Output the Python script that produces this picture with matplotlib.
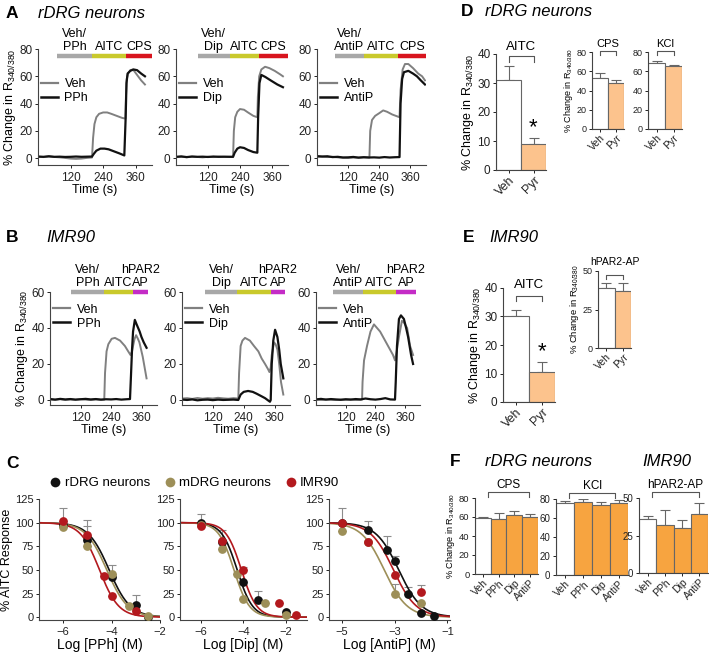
import numpy as np
import matplotlib
matplotlib.use("Agg")
import matplotlib.pyplot as plt
from matplotlib.lines import Line2D
from matplotlib.transforms import offset_copy

plt.rcParams['font.family'] = ['Liberation Sans', 'DejaVu Sans']
plt.rcParams['mathtext.fontset'] = 'custom'
plt.rcParams['mathtext.rm'] = 'Liberation Sans'
plt.rcParams['mathtext.it'] = 'Liberation Sans:italic'
plt.rcParams['axes.linewidth'] = 0.8
plt.rcParams['axes.edgecolor'] = '#444444'

# ---------------- data: calcium traces (time s, % change) ----------------
a1_veh_t = [0, 20, 40, 60, 80, 100, 120, 140, 160, 180, 199, 203, 208, 215, 225, 240, 255, 270, 290, 310, 322, 324, 327, 332, 340, 350, 365, 380, 394]
a1_veh = [1.0, 0.8, 1.2, 0.9, 0.6, 0.2, -0.3, -0.5, -0.3, 0.2, 0.5, 15, 25, 30, 32.5, 33.5, 33.5, 32.5, 31, 29.5, 29, 45, 58, 62, 64.5, 65, 61, 57, 54]
a1_drug_t = [0, 20, 40, 60, 80, 100, 120, 140, 160, 180, 199, 205, 215, 230, 245, 260, 280, 300, 318, 323, 326, 330, 340, 352, 365, 380, 394]
a1_drug = [1.2, 1.0, 1.4, 1.0, 1.1, 0.9, 1.0, 1.2, 1.0, 1.1, 1.2, 3, 5.5, 7, 7, 6.5, 5, 3.5, 2, 30, 55, 62, 64, 65, 64.5, 62, 60]

a2_veh_t = [0, 20, 40, 60, 80, 100, 120, 140, 160, 180, 200, 214, 217, 222, 230, 240, 255, 270, 290, 305, 307, 312, 320, 334, 350, 370, 390, 401]
a2_veh = [0.8, 1.0, 0.7, 1.1, 0.9, 0.6, 1.0, 0.8, 1.1, 0.9, 1.0, 1.0, 20, 30, 34, 36, 35.5, 33.5, 31, 30, 45, 60, 65, 67, 66, 64, 61.5, 60]
a2_drug_t = [0, 20, 40, 60, 80, 100, 120, 140, 160, 180, 200, 214, 220, 230, 240, 255, 270, 290, 305, 308, 313, 320, 335, 355, 380, 401]
a2_drug = [1.0, 1.3, 0.8, 1.2, 1.0, 1.1, 0.9, 1.2, 1.0, 1.1, 1.0, 1.0, 4, 7, 8, 7.5, 6, 4.5, 4, 30, 55, 61, 59.5, 57, 54, 52]

a3_veh_t = [0, 20, 40, 60, 80, 100, 120, 140, 160, 180, 202, 205, 212, 224, 240, 255, 270, 290, 318, 322, 330, 339, 352, 370, 390, 405, 416]
a3_veh = [1.0, 1.2, 0.8, 1.0, 0.6, 0.4, 0.2, 0.5, 0.4, 0.6, 0.5, 20, 28, 31, 33, 35, 34, 32, 30, 50, 65, 69, 69, 66, 62, 60, 57]
a3_drug_t = [0, 20, 40, 60, 80, 100, 120, 140, 160, 180, 200, 220, 240, 260, 280, 300, 318, 322, 328, 335, 352, 370, 385, 400, 416]
a3_drug = [1.5, 1.2, 1.4, 0.8, 1.0, 0.5, 0.6, 0.9, 0.4, 0.7, 0.5, 0.6, 0.4, 0.8, 0.5, 0.7, 0.8, 40, 58, 63, 64, 62, 60, 57, 54]

b1_veh_t = [0, 20, 40, 60, 80, 100, 120, 140, 160, 180, 200, 213, 216, 222, 229, 242, 255, 275, 294, 307, 316, 322, 326, 332, 338, 345, 351, 364, 379]
b1_veh = [0.3, 0.1, 0.4, 0.0, 0.3, 0.1, 0.4, 0.2, 0.0, 0.3, 0.1, 0.2, 15, 27, 31, 34, 34.5, 33, 30, 27, 25, 27, 30, 34, 36, 34, 32, 24, 12]
b1_drug_t = [0, 20, 40, 60, 80, 100, 120, 140, 160, 180, 200, 220, 240, 260, 280, 300, 314, 318, 322, 326, 333, 340, 346, 352, 359, 368, 379]
b1_drug = [0.5, 0.2, 0.6, 0.3, 0.5, 0.2, 0.4, 0.6, 0.3, 0.5, 0.2, 0.4, 0.3, 0.5, 0.2, 0.4, 0.5, 14, 28, 38, 44.5, 42, 40, 38, 35, 32, 29]

b2_veh_t = [0, 20, 40, 60, 80, 100, 120, 140, 160, 180, 200, 219, 222, 228, 235, 245, 264, 280, 297, 310, 323, 335, 340, 345, 349, 358, 364, 371, 378, 385, 394]
b2_veh = [0.8, 1.0, 0.6, 1.1, 0.7, 1.0, 0.8, 1.2, 0.9, 0.7, 1.0, 0.8, 15, 30, 33, 34.5, 33, 30, 27, 23, 20, 17, 15.5, 18, 25, 32, 31, 28, 20, 10, 3]
b2_drug_t = [0, 20, 40, 60, 80, 100, 120, 140, 160, 180, 200, 219, 228, 240, 257, 275, 290, 310, 323, 342, 345, 349, 355, 362, 371, 378, 384, 394]
b2_drug = [0.2, 0.0, 0.3, -0.2, 0.1, 0.2, -0.1, 0.2, 0.0, 0.1, 0.2, 0.0, 3, 4.5, 5, 4.5, 3.5, 2, 1, -1, 0, 20, 33, 39, 35, 28, 20, 12]

b3_veh_t = [0, 20, 40, 60, 80, 100, 120, 140, 160, 186, 188, 194, 206, 220, 234, 259, 291, 311, 319, 327, 335, 347, 355, 368, 380, 392]
b3_veh = [0.2, 0.0, 0.3, 0.1, 0.0, 0.2, 0.1, 0.3, 0.0, 0.2, 10, 22, 30, 38, 42, 38, 30, 25, 22, 28, 35, 44, 43, 40, 30, 25]
b3_drug_t = [0, 20, 40, 60, 80, 100, 120, 140, 160, 180, 200, 220, 240, 260, 280, 300, 319, 322, 327, 335, 343, 355, 364, 372, 384, 392]
b3_drug = [0.3, 0.6, 0.2, 0.5, 0.3, 0.1, 0.4, 0.2, 0.5, 0.3, 0.8, 0.4, 0.2, 0.5, 1.0, 0.3, 0.2, 10, 30, 45, 47, 45, 40, 35, 25, 20]

drug_names = ['PPh', 'Dip', 'AntiP']
time_ticks = [120, 240, 360]
# application bars (start/end times of vehicle-drug, AITC, agonist)
a_bar_edges = [[70, 199, 324, 420], [82, 202, 311, 420], [69, 182, 313, 420]]
b_bar_edges = [[82, 212, 326, 385], [89, 214, 346, 401], [69, 190, 323, 404]]

# ---------------- data: dose response (log M, % AITC response) ----------------
c_cells = ['rDRG neurons', 'mDRG neurons', 'IMR90']
pph_x = [[-6, -5, -4, -3, -2.5], [-6, -5, -4, -3.3, -2.5], [-6, -5, -4.3, -4, -3]]
pph_y = [[98, 82, 42, 13, 0], [95, 75, 46, 12, 1], [102, 87, 44, 22, 7]]
pph_err = [[18, 14, 13, 10, 0], [0, 0, 0, 0, 0], [0, 16, 0, 0, 0]]
pph_logic50 = [-4.1, -4.2, -4.5]
pph_hill = [1.0, 1.0, 1.1]

dip_x = [[-6, -5, -4, -3.3, -2], [-6, -5, -4.3, -4, -3, -2], [-6, -5, -4, -2.3, -1.5]]
dip_y = [[100, 80, 37, 18, 5], [97, 72, 46, 19, 15, 2], [96, 81, 50, 15, 2]]
dip_err = [[9, 0, 16, 10, 0], [0, 0, 0, 0, 0, 0], [0, 11, 0, 0, 0]]
dip_logic50 = [-4.3, -4.45, -4.1]
dip_hill = [1.2, 1.2, 1.2]

antip_x = [[-5, -4, -3.3, -3, -2.5, -2, -1.5], [-5, -4, -3, -2], [-5, -4, -3, -2]]
antip_y = [[100, 92, 71, 59, 25, 4, 1], [91, 79, 25, 15], [100, 80, 45, 27]]
antip_err = [[0, 10, 15, 6, 7, 0, 0], [0, 0, 10, 0], [16, 0, 0, 7]]
antip_logic50 = [-2.85, -3.4, -3.05]
antip_hill = [1.0, 1.0, 1.0]

# ---------------- data: bar charts ----------------
pyr_labels = ['Veh', 'Pyr']
d_aitc = [31, 9]
d_aitc_err = [5, 2.2]
d_cps = [53.5, 48]
d_cps_err = [5, 2.7]
d_kcl = [68.7, 65.2]
d_kcl_err = [1.7, 1.8]
e_aitc = [30, 10.6]
e_aitc_err = [2.3, 3.5]
e_par2 = [39.2, 37]
e_par2_err = [2.8, 5]

f_labels = ['Veh', 'PPh', 'Dip', 'AntiP']
f_cps = [59, 58.4, 62.6, 60.2]
f_cps_err = [1, 5.9, 3.4, 2.8]
f_kcl = [75.5, 77, 74, 75.5]
f_kcl_err = [2.5, 3, 2.5, 3.5]
f_par2 = [35.7, 32, 29.7, 39.6]
f_par2_err = [2.2, 10.3, 5.5, 7.3]

# ---------------- colours ----------------
veh_col = '#808080'
drug_col = '#111111'
bar_cols_a = ['#a8a8a8', '#c9c92c', '#d8141e']
bar_cols_b = ['#a8a8a8', '#c9c92c', '#c42cc6']
cell_cols = ['#111111', '#9d8f58', '#b3191e']
light_orange = '#fcc38d'
orange = '#f7a440'

W, H = 709, 656
fig = plt.figure(figsize=(W / 100, H / 100), dpi=100)


def add_ax(x0, ytop, x1, ybot):
    return fig.add_axes([x0 / W, 1 - ybot / H, (x1 - x0) / W, (ybot - ytop) / H])


def style(ax, size=8.5):
    ax.spines['top'].set_visible(False)
    ax.spines['right'].set_visible(False)
    ax.tick_params(direction='out', length=2.5, width=0.7, labelsize=size, pad=1.5, colors='#222222')


def ylab_text():
    return '% Change in R$_{340/380}$'


def trace_panel(ax, vt, vy, dt, dy, drug, edges, bcols, top_lbls, bot_lbls, ylim, yticks, bar_y, ylabel, leg_y):
    style(ax)
    ax.plot(vt, vy, color=veh_col, lw=1.4)
    ax.plot(dt, dy, color=drug_col, lw=1.6)
    ax.set_xlim(0, 420)
    ax.set_ylim(*ylim)
    ax.set_yticks(yticks)
    ax.set_xticks(time_ticks)
    ax.tick_params(axis='x', pad=2.5)
    ax.spines['left'].set_bounds(ylim[0], yticks[-1])
    ax.set_xlabel('Time (s)', fontsize=9, labelpad=0)
    if ylabel:
        ax.set_ylabel(ylab_text(), fontsize=9, labelpad=1)
    for i in range(3):
        ax.plot([edges[i], edges[i + 1]], [bar_y, bar_y], color=bcols[i], lw=3.2,
                solid_capstyle='butt', clip_on=False)
    tr_lo = offset_copy(ax.transData, fig=fig, y=4.5, units='points')
    tr_hi = offset_copy(ax.transData, fig=fig, y=13.5, units='points')
    for i in range(3):
        xc = (edges[i] + edges[i + 1]) / 2
        if bot_lbls[i]:
            ax.text(xc, bar_y, bot_lbls[i], transform=tr_lo, ha='center', va='baseline', fontsize=9)
        if top_lbls[i]:
            ax.text(xc, bar_y, top_lbls[i], transform=tr_hi, ha='center', va='baseline', fontsize=9)
    handles = [Line2D([], [], color=veh_col, lw=1.6), Line2D([], [], color=drug_col, lw=1.8)]
    ax.legend(handles, ['Veh', drug], loc='upper left', bbox_to_anchor=(-0.02, leg_y), frameon=False,
              fontsize=9, handlelength=1.4, handletextpad=0.5, labelspacing=0.15, borderaxespad=0)


# ---------------- panel A ----------------
a_boxes = [(38, 152), (176, 288), (317, 426)]
a_data = [(a1_veh_t, a1_veh, a1_drug_t, a1_drug), (a2_veh_t, a2_veh, a2_drug_t, a2_drug),
          (a3_veh_t, a3_veh, a3_drug_t, a3_drug)]
for i in range(3):
    ax = add_ax(a_boxes[i][0], 49, a_boxes[i][1], 165)
    vt, vy, dt, dy = a_data[i]
    trace_panel(ax, vt, vy, dt, dy, drug_names[i], a_bar_edges[i], bar_cols_a,
                ['Veh/', '', ''], [drug_names[i], 'AITC', 'CPS'], (-5, 80), [0, 20, 40, 60, 80], 75,
                i == 0, 0.79)

# ---------------- panel B ----------------
b_boxes = [(50, 157), (182, 290), (316, 420)]
b_data = [(b1_veh_t, b1_veh, b1_drug_t, b1_drug), (b2_veh_t, b2_veh, b2_drug_t, b2_drug),
          (b3_veh_t, b3_veh, b3_drug_t, b3_drug)]
for i in range(3):
    ax = add_ax(b_boxes[i][0], 292, b_boxes[i][1], 405)
    vt, vy, dt, dy = b_data[i]
    trace_panel(ax, vt, vy, dt, dy, drug_names[i], b_bar_edges[i], bar_cols_b,
                ['Veh/', '', 'hPAR2'], [drug_names[i], 'AITC', 'AP'], (-2.8, 60), [0, 20, 40, 60], 60,
                i == 0, 0.94)

# ---------------- panel C ----------------
c_boxes = [(39, 160, (-7, -2), [-6, -4, -2], 'PPh'), (180, 307, (-7, -1), [-6, -4, -2], 'Dip'),
           (329, 450, (-5.5, -0.9), [-5, -3, -1], 'AntiP')]
c_sets = [(pph_x, pph_y, pph_err, pph_logic50, pph_hill),
          (dip_x, dip_y, dip_err, dip_logic50, dip_hill),
          (antip_x, antip_y, antip_err, antip_logic50, antip_hill)]
for i in range(3):
    x0, x1, xl, xt, name = c_boxes[i]
    ax = add_ax(x0, 499, x1, 620)
    style(ax, 8)
    xs, ys, es, ic, nh = c_sets[i]
    grid = np.linspace(xl[0], xl[1], 200)
    for k in range(3):
        e = np.array(es[k])
        ax.errorbar(xs[k], ys[k], yerr=[np.zeros_like(e), e], fmt='none', ecolor='#8c8c8c',
                    elinewidth=0.8, capsize=3, capthick=0.8, zorder=1)
    for k in range(3):
        fit = 100 / (1 + 10 ** ((grid - ic[k]) * nh[k]))
        ax.plot(grid, fit, color=cell_cols[k], lw=1.2, zorder=2)
    for k in range(3):
        ax.plot(xs[k], ys[k], 'o', color=cell_cols[k], ms=6.3, mec='none', zorder=3)
    ax.set_xlim(*xl)
    ax.set_ylim(-3, 125)
    ax.set_yticks([0, 25, 50, 75, 100, 125])
    ax.set_xticks(xt)
    ax.set_xticklabels(['\u2212%d' % abs(v) for v in xt])
    ax.tick_params(axis='x', pad=2.5)
    ax.set_xlabel('Log [%s] (M)' % name, fontsize=10, labelpad=1)
    if i == 0:
        ax.set_ylabel('% AITC Response', fontsize=9, labelpad=1)

c_handles = [Line2D([], [], marker='o', ls='none', color=c, mec='none', ms=7) for c in cell_cols]
fig.legend(c_handles, c_cells, loc='center', bbox_to_anchor=(194 / W, 1 - 483 / H), ncol=3,
           frameon=False, fontsize=9.5, handletextpad=0.2, columnspacing=1.0, handlelength=1.0)


# ---------------- bar charts ----------------
def bar_panel(ax, labels, vals, errs, cols, ylim, yticks, title, title_y, br, br_x, star=None,
              tsize=7, lsize=7, ttl_size=8, ylabel=None):
    style(ax, tsize)
    n = len(vals)
    x = np.arange(n)
    ax.bar(x, vals, width=1.0, color=cols, edgecolor='#666666', linewidth=0.8, zorder=2)
    e = np.array(errs)
    ax.errorbar(x, vals, yerr=[np.zeros(n), e], fmt='none', ecolor='#666666', elinewidth=0.8,
                capsize=3.5, capthick=0.8, zorder=1)
    ax.set_xlim(-0.5, n - 0.5)
    ax.set_ylim(*ylim)
    ax.set_yticks(yticks)
    ax.set_xticks(x)
    ax.set_xticklabels(labels, rotation=45, ha='right', rotation_mode='anchor', fontsize=lsize)
    ax.tick_params(axis='x', length=2, pad=1)
    ax.text((br_x[0] + br_x[1]) / 2, title_y, title, ha='center', va='baseline', fontsize=ttl_size,
            clip_on=False)
    ax.plot([br_x[0], br_x[0], br_x[1], br_x[1]], [br[1], br[0], br[0], br[1]], color='#555555',
            lw=0.8, clip_on=False)
    if star is not None:
        ax.text(1, star, '*', ha='center', va='center', fontsize=16)
    if ylabel:
        ax.set_ylabel(ylab_text(), fontsize=ylabel, labelpad=1)


pyr_cols = ['white', light_orange]
f_cols = ['white', orange, orange, orange]

ax = add_ax(496, 54, 546, 170)
bar_panel(ax, pyr_labels, d_aitc, d_aitc_err, pyr_cols, (0, 40), [0, 10, 20, 30, 40], 'AITC', 41.5,
          (39.3, 37.3), (0, 1), star=14.5, tsize=8.5, lsize=9, ttl_size=9.5, ylabel=9)
ax = add_ax(592, 52, 624, 129)
bar_panel(ax, pyr_labels, d_cps, d_cps_err, pyr_cols, (0, 80), [0, 20, 40, 60, 80], 'CPS', 85,
          (81.5, 77), (0, 1), tsize=6.5, lsize=7.5, ttl_size=8, ylabel=6.5)
ax = add_ax(648, 52, 682, 129)
bar_panel(ax, pyr_labels, d_kcl, d_kcl_err, pyr_cols, (0, 80), [0, 20, 40, 60, 80], 'KCl', 85,
          (81.5, 77), (0, 1), tsize=6.5, lsize=7.5, ttl_size=8)

ax = add_ax(503, 288, 555, 402)
bar_panel(ax, pyr_labels, e_aitc, e_aitc_err, pyr_cols, (0, 40), [0, 10, 20, 30, 40], 'AITC', 40,
          (37.3, 35.5), (0, 1), star=17.5, tsize=8.5, lsize=9, ttl_size=9.5, ylabel=9)
ax = add_ax(598, 271, 631, 348)
bar_panel(ax, pyr_labels, e_par2, e_par2_err, pyr_cols, (0, 50), [0, 25, 50], 'hPAR2-AP', 54,
          (47.4, 44.6), (0, 1), tsize=6.5, lsize=7.5, ttl_size=7.5, ylabel=6.8)

ax = add_ax(475, 498, 538, 574)
bar_panel(ax, f_labels, f_cps, f_cps_err, f_cols, (0, 80), [0, 20, 40, 60, 80], 'CPS', 90.5,
          (86.6, 81.4), (0.3, 2.9), tsize=6.8, lsize=7.5, ttl_size=8.5, ylabel=6.6)
ax = add_ax(556, 499, 628, 575)
bar_panel(ax, f_labels, f_kcl, f_kcl_err, f_cols, (0, 80), [0, 20, 40, 60, 80], 'KCl', 90.5,
          (86.6, 81.4), (0.2, 2.8), tsize=7, lsize=7.5, ttl_size=8.5)
ax = add_ax(639, 498, 708, 573)
bar_panel(ax, f_labels, f_par2, f_par2_err, f_cols, (0, 50), [0, 25, 50], 'hPAR2-AP', 56.4,
          (54, 50.7), (0.25, 3), tsize=7, lsize=7.5, ttl_size=8.5)


# ---------------- panel letters / titles ----------------
def letter(x, y, s):
    fig.text(x / W, 1 - y / H, s, fontsize=12.5, fontweight='bold', ha='left', va='center')


def subtitle(x, y, s):
    fig.text(x / W, 1 - y / H, s, fontsize=12, style='italic', ha='left', va='center')


letter(6, 13, 'A')
subtitle(38, 13, 'rDRG neurons')
letter(6, 238, 'B')
subtitle(46, 238, 'IMR90')
letter(6, 463, 'C')
letter(461, 12, 'D')
subtitle(485, 12, 'rDRG neurons')
letter(463, 238, 'E')
subtitle(489, 238, 'IMR90')
letter(450, 462, 'F')
subtitle(485, 462, 'rDRG neurons')
subtitle(642, 462, 'IMR90')

fig.savefig('out.png', dpi=100)
